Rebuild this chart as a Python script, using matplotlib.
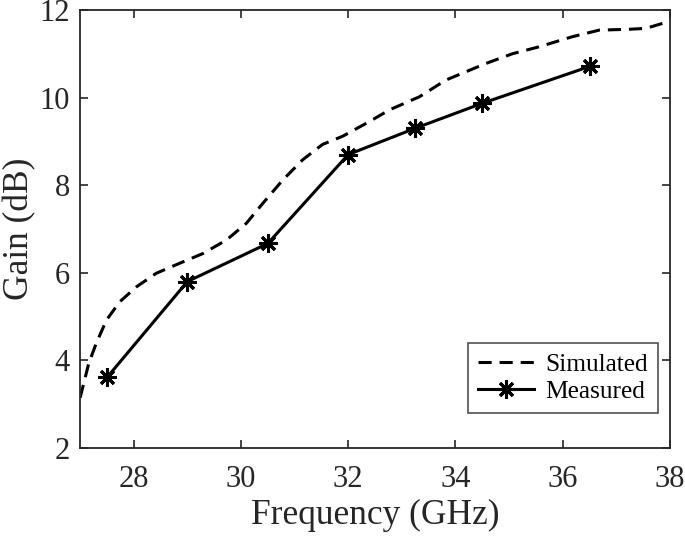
import matplotlib
matplotlib.use("Agg")
import matplotlib.pyplot as plt

sim_freq = [27.0, 27.16, 27.3, 27.49, 27.74, 28.05, 28.42, 28.86, 29.29, 29.73, 30.1, 30.41,
            30.78, 31.15, 31.52, 31.9, 32.39, 32.77, 33.33, 33.82, 34.57, 35.06, 35.56, 36.18,
            36.68, 37.24, 37.55, 37.96, 38.0]
sim_gain = [3.15, 3.93, 4.39, 4.92, 5.34, 5.68, 5.99, 6.22, 6.44, 6.75, 7.13, 7.59,
            8.12, 8.58, 8.93, 9.12, 9.45, 9.72, 10.02, 10.4, 10.78, 11.0, 11.16, 11.39,
            11.54, 11.56, 11.58, 11.73, 11.76]

meas_freq = [27.5, 29.0, 30.5, 32.0, 33.25, 34.5, 36.5]
meas_gain = [3.61, 5.80, 6.67, 8.70, 9.30, 9.87, 10.71]

xticks = [28, 30, 32, 34, 36, 38]
yticks = [2, 4, 6, 8, 10, 12]

plt.rcParams['font.family'] = ['Liberation Serif', 'DejaVu Serif']

fig = plt.figure(figsize=(6.85, 5.37), dpi=100)
ax = fig.add_axes([0.117, 0.1657, 0.861, 0.8157])

ax.plot(sim_freq, sim_gain, color='black', linestyle=(0, (4.3, 2.6)), linewidth=2.2, label='Simulated')
ax.plot(meas_freq, meas_gain, color='black', linestyle='-', linewidth=2.2,
        marker=(8, 2, 0), markersize=13, markeredgewidth=2.2, label='Measured')

ax.set_xlim(27, 38)
ax.set_ylim(2, 12)
ax.set_xticks(xticks)
ax.set_yticks(yticks)
ax.tick_params(direction='in', length=6, width=1.2, top=True, right=True,
               labelsize=22, colors='#262626')
ax.tick_params(axis='x', pad=12)
ax.tick_params(axis='y', pad=7.5)
for s in ax.spines.values():
    s.set_linewidth(1.3)
    s.set_color('#262626')

ax.set_xlabel('Frequency (GHz)', fontsize=25.5, color='#262626', labelpad=4)
ax.set_ylabel('Gain (dB)', fontsize=25.5, color='#262626', labelpad=2)

leg = ax.legend(loc='lower right', bbox_to_anchor=(0.98, 0.08), borderaxespad=0,
                fontsize=18.3, frameon=True, fancybox=False, edgecolor='#262626',
                handlelength=2.2, handletextpad=0.45, borderpad=0.4, labelspacing=0.15)
leg.get_frame().set_linewidth(1.2)

fig.savefig('out.png', dpi=100)
